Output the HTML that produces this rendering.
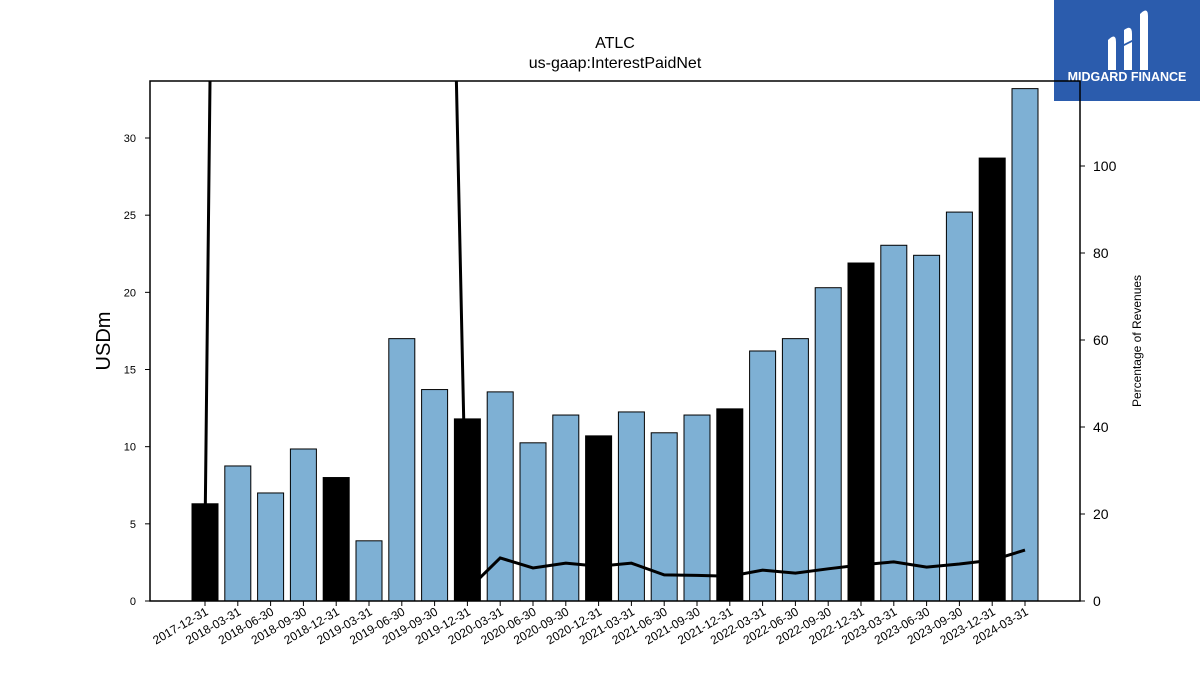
<!DOCTYPE html>
<html><head><meta charset="utf-8"><style>
body{margin:0;background:#fff;}
svg{display:block;font-family:"Liberation Sans","DejaVu Sans",sans-serif;}
</style></head><body>
<svg id="c" width="1200" height="675">
<defs><clipPath id="pc"><rect x="150" y="81" width="930" height="520"/></clipPath></defs>
<g>
<rect x="1054" y="0" width="146" height="101" fill="#2b5cad"/>
<path d="M1108 40 q8 -8 8 2 v28 h-8z M1124 30 q8 -6 8 4 v6 l-8 4z M1124 46 l8 -4 v28 h-8z M1140 14 q8 -8 8 2 v54 h-8z" fill="#fff"/>
<text x="1127" y="81" font-size="12.5" font-weight="bold" fill="#fff" text-anchor="middle">MIDGARD FINANCE</text>
</g>
<text x="615" y="48" font-size="16" text-anchor="middle">ATLC</text>
<text x="615" y="68" font-size="16" text-anchor="middle">us-gaap:InterestPaidNet</text>
<g id="bars"></g>
<g id="line" clip-path="url(#pc)"></g>
<rect x="150" y="81" width="930" height="520" fill="none" stroke="#000" stroke-width="1.5"/>
<g id="axes"></g>
<text transform="translate(110,341) rotate(-90)" font-size="20" text-anchor="middle">USDm</text>
<text transform="translate(1141,341) rotate(-90)" font-size="12" text-anchor="middle">Percentage of Revenues</text>
</svg>
<script>
const categories=["2017-12-31","2018-03-31","2018-06-30","2018-09-30","2018-12-31","2019-03-31","2019-06-30","2019-09-30","2019-12-31","2020-03-31","2020-06-30","2020-09-30","2020-12-31","2021-03-31","2021-06-30","2021-09-30","2021-12-31","2022-03-31","2022-06-30","2022-09-30","2022-12-31","2023-03-31","2023-06-30","2023-09-30","2023-12-31","2024-03-31"];
const barValues=[6.3,8.75,7.0,9.85,8.0,3.9,17.0,13.7,11.8,13.55,10.25,12.05,10.7,12.25,10.9,12.05,12.45,16.2,17.0,20.3,21.9,23.05,22.4,25.2,28.7,33.2];
const pctValues=[15,700,600,500,450,400,380,351,2.5,9.9,7.6,8.7,8.0,8.7,6.0,5.9,5.7,7.1,6.4,7.4,8.3,9.0,7.8,8.5,9.4,11.7];
const leftTicks=[0,5,10,15,20,25,30];
const rightTicks=[0,20,40,60,80,100];
const NS="http://www.w3.org/2000/svg";
const x=i=>205+i*32.8;
const yL=v=>601-v*15.433;
const yR=v=>601-v*4.35;
function mk(t,a,p){const e=document.createElementNS(NS,t);for(const k in a)e.setAttribute(k,a[k]);p.appendChild(e);return e;}
const bars=document.getElementById('bars');
barValues.forEach((v,i)=>{
 const dec=categories[i].endsWith('12-31');
 const r=mk('rect',{x:x(i)-13,y:yL(v),width:26,height:601-yL(v),fill:dec?'#000':'#7eb0d4',stroke:'#000','stroke-width':1},bars);
 
 
});
const line=document.getElementById('line');
const pl=mk('polyline',{points:pctValues.map((v,i)=>x(i)+','+yR(v)).join(' '),fill:'none',stroke:'#000','stroke-width':3},line);


const ax=document.getElementById('axes');
leftTicks.forEach(t=>{
 mk('line',{x1:145,x2:150,y1:yL(t),y2:yL(t),stroke:'#000'},ax);
 const tx=mk('text',{x:136,y:yL(t)+4,'font-size':11,'text-anchor':'end'},ax);tx.textContent=t;
 
 
});
rightTicks.forEach(t=>{
 mk('line',{x1:1080,x2:1085,y1:yR(t),y2:yR(t),stroke:'#000'},ax);
 const tx=mk('text',{x:1093,y:yR(t)+5,'font-size':14},ax);tx.textContent=t;
 
 
});
categories.forEach((c,i)=>{
 mk('line',{x1:x(i),x2:x(i),y1:601,y2:606,stroke:'#000'},ax);
 const tx=mk('text',{transform:'translate('+(x(i)+4)+',614) rotate(-30)','font-size':12,'text-anchor':'end'},ax);tx.textContent=c;
 
 
});
</script>
</body></html>
